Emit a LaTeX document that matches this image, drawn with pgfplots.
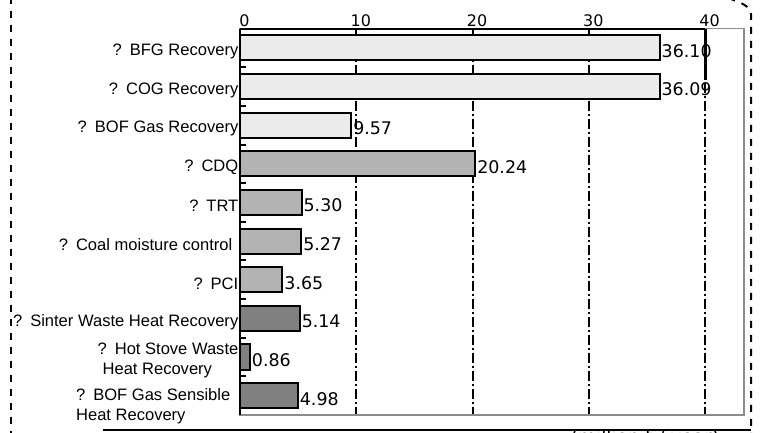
\documentclass[border=0pt]{standalone}
\usepackage{pgfplots}
\pgfplotsset{compat=1.18}
\usepackage{pgfplotstable}
\usepackage{fontspec}
\setmainfont{Liberation Sans}
\newfontfamily\numfont{DejaVu Sans}

\definecolor{barlight}{HTML}{EBEBEB}
\definecolor{barmid}{HTML}{B3B3B3}
\definecolor{bardark}{HTML}{808080}
\definecolor{framegray}{HTML}{8C8C8C}

% energy-saving potential, million t / year
\pgfplotstableread{
idx val lbl
0 36.10 36.10
1 36.09 36.09
2 9.57 9.57
}\gasrecovery
\pgfplotstableread{
idx val lbl
3 20.24 20.24
4 5.30 5.30
5 5.27 5.27
6 3.65 3.65
}\cokeiron
\pgfplotstableread{
idx val lbl
7 5.14 5.14
8 0.86 0.86
9 4.98 4.98
}\wasteheat

\begin{document}
\begin{tikzpicture}[x=1bp,y=1bp]
\begin{axis}[
  name=main,
  scale only axis, width=504bp, height=386.4bp,
  xmin=0, xmax=43.35, ymin=-0.5, ymax=9.5, y dir=reverse,
  clip=false,
  axis line style={framegray, line width=1.5bp},
  xtick={0,10,20,30,40}, xticklabels={0,10,20,30,40},
  xtick pos=right, xticklabel pos=right,
  major x tick style={draw=none},
  xticklabel style={font=\numfont\fontsize{16}{18}\selectfont, anchor=south, inner sep=0pt, yshift=2bp, xshift=4.5bp},
  xmajorgrids,
  grid style={black, line width=2bp, dash pattern=on 10bp off 3bp on 2bp off 3bp},
  ytick={0,...,8}, ytick pos=left, major y tick style={draw=none},
  yticklabels={
    ?\hspace{8bp}BFG Recovery,
    ?\hspace{8bp}COG Recovery,
    ?\hspace{8bp}BOF Gas Recovery,
    ?\hspace{8bp}CDQ,
    ?\hspace{8bp}TRT,
    ?\hspace{8bp}Coal moisture control\hspace{6bp},
    ?\hspace{8bp}PCI,
    ?\hspace{8bp}Sinter Waste Heat Recovery,
    {?\hspace{8bp}Hot Stove Waste\\\hspace{5bp}Heat Recovery}},
  extra y ticks={9},
  extra y tick labels={{?\hspace{8bp}BOF Gas Sensible\\Heat Recovery}},
  extra y tick style={yticklabel style={yshift=-7bp, xshift=-8bp}},
  yticklabel style={font=\fontsize{16.6}{19.5}\selectfont, anchor=east, inner sep=0pt, xshift=-1.5bp, yshift=-3.6bp, align=left},
  minor ytick={-0.5,0.5,...,9.5}, minor tick length=6bp, tick align=inside,
  minor y tick style={black, line width=2bp},
  every node near coord/.append style={font=\numfont\fontsize{17.5}{20}\selectfont, anchor=west, inner sep=1bp, yshift=-3bp, black},
]
\addplot[xbar, bar shift=0pt, bar width=0.65, fill=barlight, draw=black, line width=2bp,
  nodes near coords, point meta=explicit symbolic]
  table[x=val, y=idx, meta=lbl] {\gasrecovery};
\addplot[xbar, bar shift=0pt, bar width=0.65, fill=barmid, draw=black, line width=2bp,
  nodes near coords, point meta=explicit symbolic]
  table[x=val, y=idx, meta=lbl] {\cokeiron};
\addplot[xbar, bar shift=0pt, bar width=0.65, fill=bardark, draw=black, line width=2bp,
  nodes near coords, point meta=explicit symbolic]
  table[x=val, y=idx, meta=lbl] {\wasteheat};
% black left and top axis lines, heavy start of the 40 grid line
\draw[black, line width=2bp] (axis cs:0,-0.5) -- (axis cs:0,9.5);
\draw[black, line width=2bp] (axis cs:0,-0.5) -- (axis cs:40,-0.5);
\draw[black, line width=3bp] (axis cs:40,-0.5) -- (axis cs:40,0.83);
\end{axis}
% page frame, placed from the axis' top-left corner
\coordinate (O) at ([shift={(-240,28.6)}]main.north west);
\begin{scope}[shift={(O)}]
\draw[black, line width=2bp, dash pattern=on 7bp off 7bp] (10.7,3) -- (10.7,-440);
\draw[black, line width=2bp, dash pattern=on 7bp off 7bp] (751,-440) -- (751,-14) .. controls (750,-6) and (742,-3) .. (728,2);
\draw[black, line width=2bp] (103,-430) -- (751,-430);
\node[font=\numfont\fontsize{18.5}{22}\selectfont, anchor=base, inner sep=0pt] at (645,-444) {(million t / year)};
\pgfresetboundingbox
\path[use as bounding box] (0,0) rectangle (760,-433);
\end{scope}
\end{tikzpicture}
\end{document}
